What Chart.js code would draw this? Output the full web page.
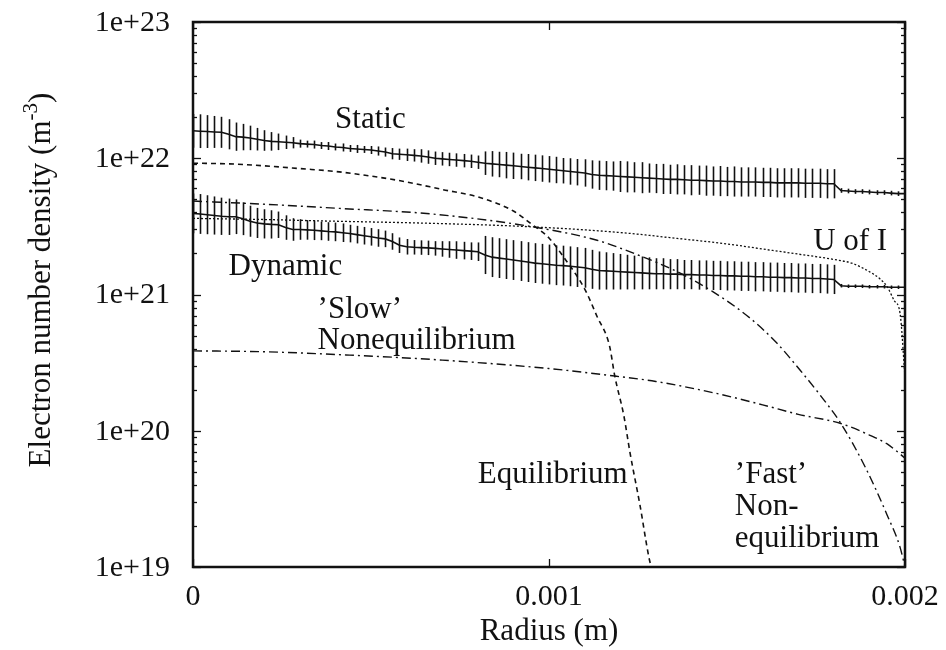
<!DOCTYPE html>
<html>
<head>
<meta charset="utf-8">
<script src="https://cdn.jsdelivr.net/npm/chart.js@4.4.1/dist/chart.umd.min.js"></script>
<style>
html, body { margin: 0; padding: 0; background: #fff; }
#wrap { width: 946px; height: 650px; }
</style>
</head>
<body>
<div id="wrap"><canvas id="chart" width="946" height="650"></canvas></div>
<script>
// ==================== DATA ====================
// measured profiles share one radial grid (m)
const radius = [
    0e-5, 2e-5, 4e-5, 6e-5, 8e-5, 10e-5, 12e-5, 14e-5, 16e-5, 18e-5,
    20e-5, 22e-5, 24e-5, 26e-5, 28e-5, 30e-5, 32e-5, 34e-5, 36e-5, 38e-5,
    40e-5, 42e-5, 44e-5, 46e-5, 48e-5, 50e-5, 52e-5, 54e-5, 56e-5, 58e-5,
    60e-5, 62e-5, 64e-5, 66e-5, 68e-5, 70e-5, 72e-5, 74e-5, 76e-5, 78e-5,
    80e-5, 82e-5, 84e-5, 86e-5, 88e-5, 90e-5, 92e-5, 94e-5, 96e-5, 98e-5,
    100e-5, 102e-5, 104e-5, 106e-5, 108e-5, 110e-5, 112e-5, 114e-5, 116e-5, 118e-5,
    120e-5, 122e-5, 124e-5, 126e-5, 128e-5, 130e-5, 132e-5, 134e-5, 136e-5, 138e-5,
    140e-5, 142e-5, 144e-5, 146e-5, 148e-5, 150e-5, 152e-5, 154e-5, 156e-5, 158e-5,
    160e-5, 162e-5, 164e-5, 166e-5, 168e-5, 170e-5, 172e-5, 174e-5, 176e-5, 178e-5,
    180e-5, 182e-5, 184e-5, 186e-5, 188e-5, 190e-5, 192e-5, 194e-5, 196e-5, 198e-5, 200e-5
];

const staticN = [
    15.9e21, 15.8e21, 15.7e21, 15.6e21, 15.5e21, 15.0e21, 14.4e21, 14.3e21, 14.1e21, 13.8e21,
    13.5e21, 13.3e21, 13.2e21, 13.1e21, 13.0e21, 12.8e21, 12.7e21, 12.6e21, 12.4e21, 12.3e21,
    12.1e21, 12.0e21, 11.8e21, 11.7e21, 11.6e21, 11.5e21, 11.3e21, 11.1e21, 10.8e21, 10.7e21,
    10.6e21, 10.5e21, 10.4e21, 10.2e21, 10.0e21, 9.9e21, 9.8e21, 9.7e21, 9.6e21, 9.5e21,
    9.35e21, 9.2e21, 9.1e21, 9.0e21, 8.9e21, 8.8e21, 8.7e21, 8.6e21, 8.5e21, 8.4e21,
    8.3e21, 8.2e21, 8.1e21, 8.0e21, 7.9e21, 7.8e21, 7.6e21, 7.5e21, 7.45e21, 7.4e21,
    7.35e21, 7.3e21, 7.25e21, 7.2e21, 7.15e21, 7.1e21, 7.05e21, 7.0e21, 7.0e21, 6.95e21,
    6.9e21, 6.9e21, 6.85e21, 6.8e21, 6.8e21, 6.75e21, 6.75e21, 6.7e21, 6.7e21, 6.7e21,
    6.65e21, 6.65e21, 6.6e21, 6.6e21, 6.6e21, 6.6e21, 6.55e21, 6.55e21, 6.55e21, 6.5e21,
    6.5e21, 5.8e21, 5.75e21, 5.7e21, 5.7e21, 5.65e21, 5.6e21, 5.6e21, 5.55e21, 5.5e21, 5.5e21
];
// multiplicative error: bar runs from n/err to n*err
const staticErr = [
    1.33, 1.33, 1.32, 1.31, 1.30, 1.29, 1.27, 1.25, 1.23, 1.21,
    1.19, 1.17, 1.15, 1.12, 1.10, 1.07, 1.06, 1.07, 1.06, 1.07,
    1.06, 1.07, 1.06, 1.07, 1.06, 1.07, 1.08, 1.08, 1.10, 1.10,
    1.11, 1.11, 1.12, 1.12, 1.12, 1.12, 1.12, 1.12, 1.12, 1.12,
    1.12, 1.22, 1.24, 1.24, 1.25, 1.25, 1.24, 1.25, 1.25, 1.25,
    1.25, 1.25, 1.24, 1.25, 1.25, 1.26, 1.27, 1.28, 1.28, 1.28,
    1.30, 1.30, 1.29, 1.30, 1.28, 1.28, 1.29, 1.28, 1.29, 1.28,
    1.29, 1.28, 1.29, 1.28, 1.29, 1.28, 1.29, 1.28, 1.28, 1.28,
    1.28, 1.28, 1.28, 1.28, 1.28, 1.28, 1.28, 1.28, 1.28, 1.28,
    1.28, 1.04, 1.04, 1.04, 1.04, 1.04, 1.04, 1.04, 1.04, 1.04, 1.06
];

const dynamicN = [
    3.94e21, 3.9e21, 3.85e21, 3.8e21, 3.75e21, 3.72e21, 3.72e21, 3.6e21, 3.45e21, 3.35e21,
    3.3e21, 3.27e21, 3.25e21, 3.1e21, 3.0e21, 3.0e21, 2.98e21, 2.96e21, 2.93e21, 2.9e21,
    2.88e21, 2.84e21, 2.8e21, 2.75e21, 2.7e21, 2.65e21, 2.6e21, 2.56e21, 2.45e21, 2.3e21,
    2.24e21, 2.22e21, 2.21e21, 2.2e21, 2.18e21, 2.16e21, 2.14e21, 2.12e21, 2.1e21, 2.08e21,
    2.06e21, 1.95e21, 1.88e21, 1.85e21, 1.82e21, 1.79e21, 1.76e21, 1.73e21, 1.7e21, 1.68e21,
    1.66e21, 1.64e21, 1.63e21, 1.61e21, 1.59e21, 1.57e21, 1.53e21, 1.5e21, 1.49e21, 1.48e21,
    1.47e21, 1.46e21, 1.45e21, 1.44e21, 1.43e21, 1.42e21, 1.42e21, 1.41e21, 1.41e21, 1.4e21,
    1.4e21, 1.39e21, 1.39e21, 1.38e21, 1.38e21, 1.37e21, 1.37e21, 1.36e21, 1.36e21, 1.35e21,
    1.35e21, 1.34e21, 1.34e21, 1.33e21, 1.33e21, 1.32e21, 1.32e21, 1.31e21, 1.31e21, 1.3e21,
    1.29e21, 1.16e21, 1.15e21, 1.15e21, 1.15e21, 1.14e21, 1.14e21, 1.14e21, 1.13e21, 1.13e21, 1.13e21
];
const dynamicErr = [
    1.40, 1.40, 1.39, 1.38, 1.37, 1.36, 1.34, 1.32, 1.30, 1.29,
    1.28, 1.27, 1.25, 1.23, 1.21, 1.19, 1.18, 1.18, 1.17, 1.17,
    1.17, 1.17, 1.16, 1.16, 1.16, 1.16, 1.16, 1.15, 1.15, 1.14,
    1.14, 1.13, 1.13, 1.13, 1.13, 1.14, 1.15, 1.16, 1.16, 1.16,
    1.17, 1.38, 1.40, 1.40, 1.40, 1.40, 1.40, 1.40, 1.40, 1.40,
    1.40, 1.40, 1.40, 1.40, 1.40, 1.40, 1.39, 1.38, 1.37, 1.36,
    1.35, 1.34, 1.33, 1.32, 1.31, 1.30, 1.30, 1.29, 1.29, 1.28,
    1.28, 1.28, 1.28, 1.28, 1.28, 1.28, 1.28, 1.28, 1.28, 1.28,
    1.28, 1.28, 1.28, 1.28, 1.28, 1.28, 1.28, 1.28, 1.28, 1.28,
    1.28, 1.03, 1.03, 1.03, 1.03, 1.03, 1.03, 1.03, 1.03, 1.03, 1.06
];

// model curves
const eqR = [0, 0.0001, 0.0002, 0.0003, 0.0004, 0.0005, 0.0006, 0.0007, 0.0008, 0.0009, 0.00095,
    0.001, 0.00104, 0.0011, 0.001135, 0.00117, 0.001185, 0.00121, 0.001228, 0.001256, 0.00128, 0.001287];
const eqN = [9.2e21, 9.1e21, 8.8e21, 8.4e21, 8.0e21, 7.4e21, 6.7e21, 5.9e21, 5.2e21, 4.1e21, 3.3e21,
    2.6e21, 1.9e21, 1.1e21, 6.9e20, 4.2e20, 2.5e20, 1.3e20, 6.8e19, 2.8e19, 1.2e19, 1.0e19];

const uiR = [0, 0.0002, 0.0004, 0.00067, 0.00095, 0.0012, 0.00136, 0.0015, 0.00162, 0.0017,
    0.00181, 0.00185, 0.0019, 0.00193, 0.00195, 0.00197, 0.001986, 0.002];
const uiN = [3.62e21, 3.55e21, 3.45e21, 3.33e21, 3.14e21, 2.85e21, 2.58e21, 2.35e21, 2.12e21, 1.98e21,
    1.79e21, 1.7e21, 1.47e21, 1.3e21, 1.14e21, 9.0e20, 7.3e20, 2.5e20];

const slowR = [0, 0.0002, 0.00044, 0.0007, 0.001, 0.00119, 0.0013, 0.00147, 0.0016, 0.0017,
    0.00182, 0.0019, 0.00195, 0.002];
const slowN = [3.86e20, 3.8e20, 3.59e20, 3.3e20, 2.86e20, 2.51e20, 2.3e20, 1.88e20, 1.55e20, 1.32e20,
    1.13e20, 9.3e19, 8.0e19, 6.3e19];

const fastR = [0, 0.0002, 0.0004, 0.00067, 0.00095, 0.001135, 0.00125, 0.00136, 0.00146, 0.001565,
    0.00164, 0.001705, 0.00176, 0.00182, 0.00189, 0.00195, 0.001986, 0.002];
const fastN = [4.85e21, 4.6e21, 4.3e21, 3.9e21, 3.15e21, 2.5e21, 1.95e21, 1.47e21, 1.05e21, 6.7e20,
    4.4e20, 2.79e20, 1.85e20, 1.13e20, 5.3e19, 2.4e19, 1.4e19, 1.0e19];

// axes
const xTicks = [0, 0.001, 0.002];
const xTickLabels = ['0', '0.001', '0.002'];
const yDecades = [1e19, 1e20, 1e21, 1e22, 1e23];
const yTickLabels = ['1e+19', '1e+20', '1e+21', '1e+22', '1e+23'];
const minorSteps = [2, 3, 4, 5, 6, 7, 8, 9];

// in-plot captions, anchored at (radius, density) = left end of baseline
const captionText = ['Static', 'U of I', 'Dynamic', '\u2019Slow\u2019', 'Nonequilibrium',
    'Equilibrium', '\u2019Fast\u2019', 'Non-', 'equilibrium'];
const captionR = [0.000399, 0.001742, 0.0001, 0.00035, 0.00035, 0.0008, 0.001522, 0.001522, 0.001522];
const captionN = [1.67e22, 2.12e21, 1.39e21, 6.7e20, 3.97e20, 4.14e19, 4.14e19, 2.41e19, 1.40e19];

// ==================== STYLE ====================
const FONT = '"Liberation Serif", "Times New Roman", serif';
const ink = '#111';

function pts(xs, ys) {
    return xs.map((x, i) => ({ x: x, y: ys[i] }));
}

function line(ctx, x1, y1, x2, y2) {
    ctx.beginPath();
    ctx.moveTo(x1, y1);
    ctx.lineTo(x2, y2);
    ctx.stroke();
}

// vertical error bars for the two measured profiles
const errorBars = {
    id: 'errorBars',
    afterDatasetsDraw(chart) {
        const { ctx, chartArea: a, scales: { x, y } } = chart;
        ctx.save();
        ctx.beginPath();
        ctx.rect(a.left, a.top, a.right - a.left, a.bottom - a.top);
        ctx.clip();
        ctx.strokeStyle = ink;
        ctx.lineWidth = 1.6;
        [[staticN, staticErr], [dynamicN, dynamicErr]].forEach(([vals, err]) => {
            vals.forEach((v, i) => {
                const px = Math.round(x.getPixelForValue(radius[i])) + 0.5;
                line(ctx, px, y.getPixelForValue(v * err[i]), px, y.getPixelForValue(v / err[i]));
            });
        });
        ctx.restore();
    }
};

// box, inward ticks, tick labels, captions and axis titles
const decor = {
    id: 'decor',
    afterDraw(chart) {
        const { ctx, chartArea: a, scales: { x, y } } = chart;
        ctx.save();
        ctx.strokeStyle = ink;
        ctx.lineWidth = 1.3;
        yDecades.forEach((d, k) => {
            let py = Math.round(y.getPixelForValue(d)) + 0.5;
            line(ctx, a.left, py, a.left + 8, py);
            line(ctx, a.right, py, a.right - 8, py);
            if (k === yDecades.length - 1) return;
            minorSteps.forEach(m => {
                py = Math.round(y.getPixelForValue(d * m)) + 0.5;
                line(ctx, a.left, py, a.left + 4, py);
                line(ctx, a.right, py, a.right - 4, py);
            });
        });
        xTicks.forEach(v => {
            const px = Math.round(x.getPixelForValue(v)) + 0.5;
            line(ctx, px, a.bottom, px, a.bottom - 8);
            line(ctx, px, a.top, px, a.top + 8);
        });
        ctx.lineWidth = 2.5;
        ctx.strokeRect(a.left, a.top, a.right - a.left, a.bottom - a.top);

        ctx.fillStyle = ink;
        ctx.font = '30px ' + FONT;

        // tick labels
        ctx.textAlign = 'right';
        ctx.textBaseline = 'middle';
        yDecades.forEach((d, k) => {
            ctx.fillText(yTickLabels[k], a.left - 23, y.getPixelForValue(d) + 1);
        });
        ctx.textAlign = 'center';
        ctx.textBaseline = 'alphabetic';
        xTicks.forEach((v, k) => {
            ctx.fillText(xTickLabels[k], x.getPixelForValue(v), a.bottom + 38);
        });

        ctx.font = '31px ' + FONT;
        ctx.textAlign = 'left';
        captionText.forEach((t, i) => {
            ctx.fillText(t, x.getPixelForValue(captionR[i]), y.getPixelForValue(captionN[i]));
        });

        // x title
        ctx.textAlign = 'center';
        ctx.fillText('Radius (m)', (a.left + a.right) / 2, a.bottom + 73);

        // y title with superscript
        const main = 'Electron number density (m';
        ctx.font = '31px ' + FONT;
        const wMain = ctx.measureText(main).width;
        const wClose = ctx.measureText(')').width;
        ctx.font = '21px ' + FONT;
        const wSup = ctx.measureText('-3').width;
        const total = wMain + wSup + wClose;
        ctx.translate(50, 280);
        ctx.rotate(-Math.PI / 2);
        ctx.textAlign = 'left';
        let sx = -total / 2;
        ctx.font = '31px ' + FONT;
        ctx.fillText(main, sx, 0);
        sx += wMain;
        ctx.font = '21px ' + FONT;
        ctx.fillText('-3', sx, -13);
        sx += wSup;
        ctx.font = '31px ' + FONT;
        ctx.fillText(')', sx, 0);
        ctx.restore();
    }
};

// ==================== CHART ====================
const common = { borderColor: ink, pointRadius: 0, fill: false };

const chart = new Chart(document.getElementById('chart').getContext('2d'), {
    type: 'line',
    data: {
        datasets: [
            Object.assign({ label: 'Static', data: pts(radius, staticN), borderWidth: 1.6, tension: 0 }, common),
            Object.assign({ label: 'Dynamic', data: pts(radius, dynamicN), borderWidth: 1.6, tension: 0 }, common),
            Object.assign({ label: 'Equilibrium', data: pts(eqR, eqN), borderWidth: 1.6, borderDash: [5, 4], cubicInterpolationMode: 'monotone' }, common),
            Object.assign({ label: 'U of I', data: pts(uiR, uiN), borderWidth: 1.3, borderDash: [2, 2], cubicInterpolationMode: 'monotone' }, common),
            Object.assign({ label: 'Slow', data: pts(slowR, slowN), borderWidth: 1.4, borderDash: [9, 4, 2, 4], cubicInterpolationMode: 'monotone' }, common),
            Object.assign({ label: 'Fast', data: pts(fastR, fastN), borderWidth: 1.4, borderDash: [9, 4, 2, 4], cubicInterpolationMode: 'monotone' }, common)
        ]
    },
    options: {
        responsive: false,
        animation: false,
        layout: { padding: { top: 22, right: 41, left: 0, bottom: 0 } },
        plugins: {
            legend: { display: false },
            tooltip: { enabled: false }
        },
        scales: {
            x: {
                type: 'linear',
                min: 0,
                max: 0.002,
                grid: { display: false },
                border: { display: false },
                ticks: { display: false },
                afterFit: s => { s.height = 83; }
            },
            y: {
                type: 'logarithmic',
                min: 1e19,
                max: 1e23,
                grid: { display: false },
                border: { display: false },
                ticks: { display: false },
                afterFit: s => { s.width = 193; }
            }
        }
    },
    plugins: [errorBars, decor]
});
</script>
</body>
</html>
